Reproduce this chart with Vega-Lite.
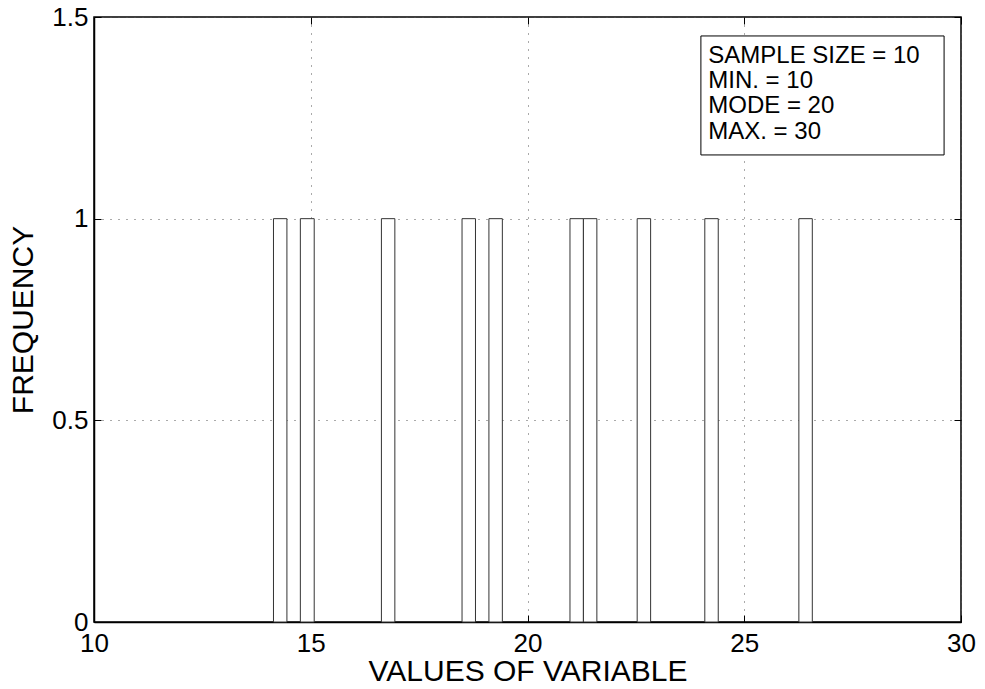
{
  "$schema": "https://vega.github.io/schema/vega-lite/v6.json",
  "autosize": {"type": "none"},
  "width": 867,
  "height": 605,
  "padding": {"left": 94, "top": 17, "right": 24, "bottom": 67},
  "background": "white",
  "config": {
    "view": {"stroke": "black", "strokeWidth": 1.5},
    "font": "Liberation Sans"
  },
  "datasets": {
    "bars": [
      {"x0": 14.14, "x1": 14.45, "freq": 1},
      {"x0": 14.76, "x1": 15.08, "freq": 1},
      {"x0": 16.63, "x1": 16.94, "freq": 1},
      {"x0": 18.49, "x1": 18.80, "freq": 1},
      {"x0": 19.11, "x1": 19.42, "freq": 1},
      {"x0": 20.98, "x1": 21.29, "freq": 1},
      {"x0": 21.29, "x1": 21.60, "freq": 1},
      {"x0": 22.53, "x1": 22.84, "freq": 1},
      {"x0": 24.09, "x1": 24.40, "freq": 1},
      {"x0": 26.26, "x1": 26.57, "freq": 1}
    ],
    "box": [{"bx0": 24.0, "bx1": 29.61, "by0": 1.158, "by1": 1.453}],
    "legend": [
      {"tx": 24.17, "ty": 1.387, "label": "SAMPLE SIZE = 10"},
      {"tx": 24.17, "ty": 1.323, "label": "MIN. = 10"},
      {"tx": 24.17, "ty": 1.261, "label": "MODE = 20"},
      {"tx": 24.17, "ty": 1.197, "label": "MAX. = 30"}
    ]
  },
  "resolve": {"axis": {"x": "independent", "y": "independent"}},
  "layer": [
    {
      "data": {"name": "bars"},
      "mark": {"type": "rect", "fill": "white", "stroke": "#333", "strokeWidth": 1},
      "encoding": {
        "x": {
          "field": "x0", "type": "quantitative",
          "scale": {"domain": [10, 30], "nice": false, "zero": false},
          "axis": {
            "orient": "bottom", "values": [10, 15, 20, 25, 30], "format": "~g",
            "title": "VALUES OF VARIABLE", "titleFont": "Liberation Sans", "titleFontSize": 30,
            "titleFontWeight": "normal", "titleColor": "black", "titlePadding": 0,
            "labelFont": "Liberation Sans", "labelFontSize": 26, "labelColor": "black",
            "labelPadding": 15, "labelFlush": false,
            "grid": true, "gridColor": "#555", "gridDash": [1, 7], "gridWidth": 1,
            "domain": true, "domainColor": "black", "domainWidth": 1.5,
            "ticks": true, "tickSize": -7, "tickColor": "black", "tickWidth": 1
          }
        },
        "x2": {"field": "x1"},
        "y": {
          "field": "freq", "type": "quantitative",
          "scale": {"domain": [0, 1.5], "nice": false},
          "axis": {
            "orient": "left", "values": [0, 0.5, 1, 1.5], "format": "~g",
            "title": "FREQUENCY", "titleFont": "Liberation Sans", "titleFontSize": 30,
            "titleFontWeight": "normal", "titleColor": "black", "titlePadding": 13,
            "labelFont": "Liberation Sans", "labelFontSize": 26, "labelColor": "black",
            "labelPadding": 13, "labelFlush": false,
            "grid": true, "gridColor": "#555", "gridDash": [1, 7], "gridWidth": 1,
            "domain": true, "domainColor": "black", "domainWidth": 1.5,
            "ticks": true, "tickSize": -7, "tickColor": "black", "tickWidth": 1
          }
        },
        "y2": {"datum": 0}
      }
    },
    {
      "data": {"name": "box"},
      "mark": {"type": "rect", "fill": "white", "stroke": "black", "strokeWidth": 1},
      "encoding": {
        "x": {
          "field": "bx0", "type": "quantitative",
          "axis": {
            "orient": "top", "values": [10, 15, 20, 25, 30], "labels": false, "title": null,
            "grid": false, "domain": false, "ticks": true, "tickSize": -7,
            "tickColor": "black", "tickWidth": 1
          }
        },
        "x2": {"field": "bx1"},
        "y": {
          "field": "by0", "type": "quantitative",
          "axis": {
            "orient": "right", "values": [0, 0.5, 1, 1.5], "labels": false, "title": null,
            "grid": false, "domain": false, "ticks": true, "tickSize": -7,
            "tickColor": "black", "tickWidth": 1
          }
        },
        "y2": {"field": "by1"}
      }
    },
    {
      "data": {"name": "legend"},
      "mark": {"type": "text", "align": "left", "baseline": "alphabetic", "font": "Liberation Sans", "fontSize": 24, "color": "black"},
      "encoding": {
        "x": {"field": "tx", "type": "quantitative", "axis": null},
        "y": {"field": "ty", "type": "quantitative", "axis": null},
        "text": {"field": "label"}
      }
    }
  ]
}
